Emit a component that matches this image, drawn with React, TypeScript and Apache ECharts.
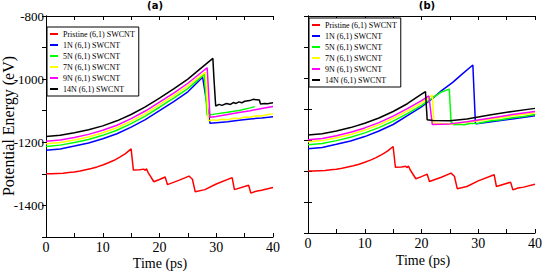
import React, { useEffect, useRef } from 'react';
import * as echarts from 'echarts';

const names = [
  'Pristine (6,1) SWCNT',
  '1N (6,1) SWCNT',
  '5N (6,1) SWCNT',
  '7N (6,1) SWCNT',
  '9N (6,1) SWCNT',
  '14N (6,1) SWCNT',
];
const colors = ['#ff0000', '#0000ff', '#00ff00', '#ffff00', '#ff00ff', '#000000'];
const xLabels = [0, 10, 20, 30, 40];
const yLabels = [-800, -1000, -1200, -1400];

const pristine = [
  [0, -1300], [1, -1300], [2, -1299], [3, -1298], [4, -1296], [5, -1294], [6, -1291], [7, -1287],
  [8, -1283], [9, -1278], [10, -1272], [11, -1265], [12, -1257], [13, -1247], [14, -1236],
  [15, -1221], [15.4, -1288], [16.5, -1287], [17.2, -1285], [17.5, -1289], [17.7, -1284], [18.0, -1296],
  [19.0, -1325], [20.0, -1318], [21.0, -1310], [21.4, -1334], [23.5, -1320], [25.2, -1307], [25.8, -1317],
  [26.3, -1357], [28, -1350], [30, -1332], [32.8, -1312], [33.2, -1350], [35.7, -1336], [36.1, -1361],
  [37, -1355], [38, -1352], [40, -1343],
];

const blueA = [
  [0, -1225], [2.5, -1221], [5, -1212], [7.5, -1202], [10, -1189], [12.5, -1173], [15, -1152], [17.5, -1128],
  [20, -1100], [22.5, -1071], [25, -1040], [27.6, -994], [28.9, -1140],
  [30, -1138], [32, -1135], [34, -1130], [36, -1126], [38, -1123], [40, -1119],
];
const greenA = [
  [0, -1213], [2.5, -1209], [5, -1201], [7.5, -1191], [10, -1178], [12.5, -1162], [15, -1141], [17.5, -1117],
  [20, -1089], [22.5, -1060], [25, -1030], [27.9, -985], [28.4, -1114],
  [30, -1110], [32, -1105], [34, -1099], [36, -1091], [36.8, -1087],
];
const yellowA = [
  [0, -1205], [2.5, -1201], [5, -1193], [7.5, -1183], [10, -1170], [12.5, -1154], [15, -1133], [17.5, -1109],
  [20, -1081], [22.5, -1052], [25, -1021], [28.1, -978], [28.6, -1132],
  [29.5, -1129], [30, -1131], [31, -1127], [32, -1129], [33, -1124], [34, -1125], [35, -1120], [36, -1121],
  [37, -1116], [38, -1117], [39, -1112], [40, -1110],
];
const magentaA = [
  [0, -1197], [2.5, -1193], [5, -1185], [7.5, -1175], [10, -1162], [12.5, -1146], [15, -1125], [17.5, -1101],
  [20, -1073], [22.5, -1044], [25, -1013], [28.4, -964], [28.9, -1121],
  [30, -1118], [32, -1112], [34, -1106], [36, -1100], [38, -1093], [40, -1087],
];
const blackA = [
  [0, -1182], [2.5, -1178], [5, -1170], [7.5, -1160], [10, -1148], [12.5, -1132], [15, -1112], [17.5, -1088],
  [20, -1060], [22.5, -1031], [25, -1000], [27, -970], [29.4, -934],
  [29.6, -1000], [29.9, -1085], [30.5, -1080], [31, -1083], [31.8, -1077], [32.5, -1080], [33, -1074],
  [33.5, -1077], [34, -1072], [34.5, -1075], [35, -1070], [35.9, -1068], [36.5, -1064], [37.6, -1066],
  [37.8, -1079], [38.5, -1077], [39, -1078], [40, -1075],
];

const blueB = [
  [0, -1228], [2.5, -1224], [5, -1214], [7.5, -1203], [10, -1189], [12.5, -1171], [15, -1150], [17.8, -1118],
  [20, -1093], [22, -1065], [23.6, -1040], [25.5, -1014], [27, -990],
  [29.05, -958], [29.5, -1146], [29.7, -1148], [32, -1142], [36, -1132], [40, -1122],
];
const greenB = [
  [0, -1215], [2.5, -1211], [5, -1202], [7.5, -1191], [10, -1177], [12.5, -1160], [15, -1139], [17.5, -1115],
  [20, -1088], [22, -1063], [23.4, -1046], [24.9, -1036], [25.2, -1141],
  [25.7, -1151], [26.5, -1149], [27.5, -1151], [28.5, -1147], [30, -1146], [32, -1139], [34, -1135],
  [36, -1128], [38, -1124], [40, -1118],
];
const yellowB = [
  [0, -1206], [2.5, -1202], [5, -1193], [7.5, -1182], [10, -1168], [12.5, -1151], [15, -1130], [17.5, -1106],
  [20, -1080], [21.9, -1055], [22.2, -1146], [25, -1148],
  [28, -1143], [32, -1133], [36, -1122], [40, -1113],
];
const magentaB = [
  [0, -1199], [2.5, -1195], [5, -1186], [7.5, -1175], [10, -1161], [12.5, -1144], [15, -1123], [17.5, -1099],
  [20, -1073], [21.3, -1058], [21.9, -1150], [25, -1148],
  [28, -1141], [32, -1130], [36, -1118], [40, -1108],
];
const blackB = [
  [0, -1184], [2.5, -1180], [5, -1171], [7.5, -1160], [10, -1146], [12.5, -1129], [15, -1108], [17.5, -1083],
  [19.6, -1057], [20.7, -1044], [21.0, -1135], [22, -1137],
  [25, -1138], [28, -1132], [32, -1119], [36, -1108], [40, -1098],
];

const panelA = [pristine, blueA, greenA, yellowA, magentaA, blackA];
const panelB = [pristine, blueB, greenB, yellowB, magentaB, blackB];

const SERIF = 'Liberation Serif';

function App() {
  const ref = useRef<HTMLDivElement>(null);
  useEffect(() => {
    if (!ref.current) return;
    const chart = echarts.init(ref.current, null, { renderer: 'svg' });

    const xBottom = (gridIndex: number) => ({
      type: 'value', gridIndex, min: 0, max: 40, interval: 5, position: 'bottom',
      axisLine: { show: true, lineStyle: { color: '#000', width: 1 } },
      axisTick: { show: true, inside: true, length: 4, lineStyle: { color: '#000' } },
      axisLabel: {
        show: true, margin: 3, color: '#000', fontFamily: SERIF, fontSize: 14,
        formatter: (v: number) => (xLabels.indexOf(v) >= 0 ? String(v) : ''),
      },
      splitLine: { show: false },
    });
    const xTop = (gridIndex: number) => ({
      type: 'value', gridIndex, min: 0, max: 40, interval: 5, position: 'top',
      axisLine: { show: true, lineStyle: { color: '#000', width: 1 } },
      axisTick: { show: true, inside: true, length: 4, lineStyle: { color: '#000' } },
      axisLabel: { show: false },
      splitLine: { show: false },
    });
    const yMirror = (gridIndex: number, position: string) => ({
      type: 'value', gridIndex, min: -1500, max: -800, interval: 100, position,
      axisLine: { show: true, lineStyle: { color: '#000', width: 1 } },
      axisTick: { show: true, inside: true, length: 4, lineStyle: { color: '#000' } },
      axisLabel: { show: false },
      splitLine: { show: false },
    });

    const makeSeries = (data: number[][][], axisIdx: number) =>
      data.map((d, i) => ({
        type: 'line', name: names[i], data: d, xAxisIndex: axisIdx, yAxisIndex: axisIdx,
        showSymbol: false, symbol: 'none',
        lineStyle: { color: colors[i], width: 1.5 }, itemStyle: { color: colors[i] },
        z: 2 + i,
      }));

    const legendBase = {
      orient: 'vertical', icon: 'rect', itemWidth: 8, itemHeight: 2, itemGap: 3, itemTextGap: 3,
      backgroundColor: '#fff', borderColor: '#000', borderWidth: 1, borderRadius: 0,
      textStyle: { fontFamily: SERIF, fontSize: 8, color: '#000', lineHeight: 8 },
      data: names, selectedMode: false,
    };

    chart.setOption({
      animation: false,
      backgroundColor: '#fff',
      grid: [
        { left: 46, top: 16, width: 227, height: 221, containLabel: false },
        { left: 308, top: 16, width: 229, height: 217, containLabel: false },
      ],
      xAxis: [xBottom(0), xBottom(1), xTop(0), xTop(1)],
      yAxis: [
        {
          type: 'value', gridIndex: 0, min: -1500, max: -800, interval: 100, position: 'left',
          axisLine: { show: true, lineStyle: { color: '#000', width: 1 } },
          axisTick: { show: true, inside: false, length: 4, customValues: yLabels, lineStyle: { color: '#000' } },
          axisLabel: {
            show: true, margin: 2, color: '#000', fontFamily: SERIF, fontSize: 13,
            customValues: yLabels,
            formatter: (v: number) => String(v),
          },
          splitLine: { show: false },
        },
        yMirror(1, 'left'),
        yMirror(0, 'right'),
        yMirror(1, 'right'),
      ],
      legend: [
        { ...legendBase, left: 47, top: 27, padding: [3, 4, 3, 3] },
        { ...legendBase, left: 309, top: 18, padding: [3, 4, 3, 3] },
      ],
      graphic: [
        {
          type: 'text', x: 8, y: 126, rotation: Math.PI / 2,
          style: { text: 'Potential Energy (eV)', font: '16px "Liberation Serif"', fill: '#000', align: 'center', verticalAlign: 'middle' },
        },
        {
          type: 'text', x: 160, y: 263,
          style: { text: 'Time (ps)', font: '14px "Liberation Serif"', fill: '#000', align: 'center', verticalAlign: 'middle' },
        },
        {
          type: 'text', x: 423, y: 260,
          style: { text: 'Time (ps)', font: '14px "Liberation Serif"', fill: '#000', align: 'center', verticalAlign: 'middle' },
        },
        {
          type: 'text', x: 155, y: 5,
          style: { text: '(a)', font: 'bold 10px "DejaVu Sans"', fill: '#000', align: 'center', verticalAlign: 'middle' },
        },
        {
          type: 'text', x: 427, y: 5,
          style: { text: '(b)', font: 'bold 10px "DejaVu Sans"', fill: '#000', align: 'center', verticalAlign: 'middle' },
        },
      ],
      series: [...makeSeries(panelA, 0), ...makeSeries(panelB, 1)],
    });

    return () => chart.dispose();
  }, []);

  return (
    <div
      ref={ref}
      style={{ position: 'fixed', left: 0, top: 0, width: 545, height: 273, background: '#fff' }}
    />
  );
}

export default App;
